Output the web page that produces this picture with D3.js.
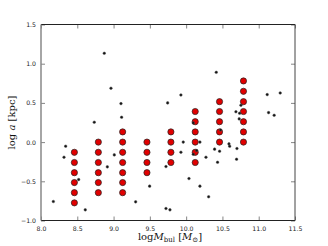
<!DOCTYPE html>
<html>
<head>
<meta charset="utf-8">
<script src="https://cdn.jsdelivr.net/npm/d3@7.9.0/dist/d3.min.js"></script>
<style>
  body { margin: 0; background: #fff; }
  svg { display: block; }
  .tick text { font-family: "DejaVu Sans", sans-serif; font-size: 6.2px; fill: #222; }
  .lbl { font-family: "DejaVu Serif", "Liberation Serif", serif; font-size: 10px; fill: #111; }
</style>
</head>
<body>
<svg></svg>
<script>
const width = 328;
const height = 246;
const margin = { top: 24.5, right: 33, bottom: 25.5, left: 41 };

// grid sample (red circles): log M_bul, log a
const gridMass = [
  8.46, 8.46, 8.46, 8.46, 8.46, 8.46,
  8.79, 8.79, 8.79, 8.79, 8.79, 8.79,
  9.125, 9.125, 9.125, 9.125, 9.125, 9.125, 9.125,
  9.46, 9.46, 9.46, 9.46,
  9.79, 9.79, 9.79, 9.79,
  10.125, 10.125, 10.125, 10.125, 10.125, 10.125,
  10.46, 10.46, 10.46, 10.46, 10.46,
  10.79, 10.79, 10.79, 10.79, 10.79, 10.79, 10.79
];
const gridLogA = [
  -0.13, -0.26, -0.39, -0.516, -0.645, -0.775,
  0, -0.13, -0.26, -0.39, -0.516, -0.645,
  0.13, 0, -0.13, -0.26, -0.39, -0.516, -0.645,
  0, -0.13, -0.26, -0.39,
  0.13, 0, -0.13, -0.26,
  0.39, 0.26, 0.13, 0, -0.13, -0.26,
  0.516, 0.39, 0.26, 0.13, 0,
  0.78, 0.648, 0.516, 0.39, 0.26, 0.13, 0
];

// observed galaxies (black dots)
const obsMass = [
  8.872, 8.964, 8.734, 8.34, 8.317, 8.519, 8.17, 8.61, 9.01, 8.914,
  9.102, 9.111, 9.745, 9.928, 10.415, 10.098, 9.96, 9.928, 9.722, 10.098,
  10.145, 10.19, 10.273, 10.392, 10.433, 10.039, 9.497, 10.19, 9.304, 9.722,
  9.777, 10.31, 11.117, 11.296, 10.755, 10.686, 10.737, 10.731, 11.136, 11.213,
  10.475, 10.59, 10.6, 10.461, 10.7, 10.695
];
const obsLogA = [
  1.133, 0.687, 0.254, -0.052, -0.193, -0.478, -0.758, -0.864, -0.163, -0.316,
  0.491, 0.317, 0.5, 0.601, 0.89, 0.245, 0.0, -0.129, -0.312, -0.155,
  -0.108, 0.0, -0.193, -0.09, -0.257, -0.465, -0.562, -0.562, -0.762, -0.847,
  -0.864, -0.698, 0.606, 0.627, 0.47, 0.387, 0.368, 0.296, 0.376, 0.342,
  0.155, -0.023, -0.053, -0.116, -0.082, -0.218
];

const xTicks = [8.0, 8.5, 9.0, 9.5, 10.0, 10.5, 11.0, 11.5];
const yTicks = [-1.0, -0.5, 0.0, 0.5, 1.0, 1.5];

const svg = d3.select("svg")
  .attr("width", width)
  .attr("height", height);

const x = d3.scaleLinear()
  .domain([8.0, 11.5])
  .range([margin.left, width - margin.right]);

const y = d3.scaleLinear()
  .domain([-1.0, 1.5])
  .range([height - margin.bottom, margin.top]);

const fmt = d => d3.format(".1f")(d).replace("-", "\u2212");

// axes with inward ticks
svg.append("g")
  .attr("transform", `translate(0,${height - margin.bottom})`)
  .call(d3.axisBottom(x).tickValues(xTicks).tickFormat(fmt).tickSizeInner(-4).tickSizeOuter(0).tickPadding(6))
  .call(g => g.select(".domain").remove());

svg.append("g")
  .attr("transform", `translate(0,${margin.top})`)
  .call(d3.axisTop(x).tickValues(xTicks).tickFormat("").tickSizeInner(-4).tickSizeOuter(0))
  .call(g => g.select(".domain").remove());

svg.append("g")
  .attr("transform", `translate(${margin.left},0)`)
  .call(d3.axisLeft(y).tickValues(yTicks).tickFormat(fmt).tickSizeInner(-4).tickSizeOuter(0).tickPadding(5))
  .call(g => g.select(".domain").remove());

svg.append("g")
  .attr("transform", `translate(${width - margin.right},0)`)
  .call(d3.axisRight(y).tickValues(yTicks).tickFormat("").tickSizeInner(-4).tickSizeOuter(0))
  .call(g => g.select(".domain").remove());

svg.selectAll(".tick line").attr("stroke", "#666").attr("stroke-width", 0.8);

// red grid points
svg.append("g")
  .selectAll("circle")
  .data(gridMass.map((m, i) => ({ m, a: gridLogA[i] })))
  .join("circle")
  .attr("cx", d => x(d.m))
  .attr("cy", d => y(d.a))
  .attr("r", 3.1)
  .attr("fill", "#e00000")
  .attr("stroke", "#222")
  .attr("stroke-width", 0.7);

// black observed points
svg.append("g")
  .selectAll("circle")
  .data(obsMass.map((m, i) => ({ m, a: obsLogA[i] })))
  .join("circle")
  .attr("cx", d => x(d.m))
  .attr("cy", d => y(d.a))
  .attr("r", 1.3)
  .attr("fill", "#111")
  .attr("stroke", "#555")
  .attr("stroke-width", 0.5);

// frame
const x0 = margin.left, x1 = width - margin.right;
const y0 = margin.top, y1 = height - margin.bottom;
svg.append("line").attr("x1", x0).attr("x2", x1).attr("y1", y0).attr("y2", y0).attr("stroke", "#222").attr("stroke-width", 1);
svg.append("line").attr("x1", x0).attr("x2", x1).attr("y1", y1).attr("y2", y1).attr("stroke", "#222").attr("stroke-width", 1);
svg.append("line").attr("x1", x0).attr("x2", x0).attr("y1", y0).attr("y2", y1).attr("stroke", "#888").attr("stroke-width", 1.5);
svg.append("line").attr("x1", x1).attr("x2", x1).attr("y1", y0).attr("y2", y1).attr("stroke", "#444").attr("stroke-width", 1);

// axis labels
const xl = svg.append("text")
  .attr("class", "lbl")
  .attr("x", (x0 + x1) / 2 + 2)
  .attr("y", 240)
  .attr("text-anchor", "middle");
xl.append("tspan").text("log");
xl.append("tspan").attr("font-style", "italic").text("M");
xl.append("tspan").attr("font-size", "7px").attr("dy", 2).text("bul");
xl.append("tspan").attr("dy", -2).text(" [");
xl.append("tspan").attr("font-style", "italic").text("M");
xl.append("tspan").attr("font-size", "7px").attr("dy", 2).text("\u2299");
xl.append("tspan").attr("dy", -2).text("]");

const yl = svg.append("text")
  .attr("class", "lbl")
  .attr("transform", `translate(14.5,${(y0 + y1) / 2}) rotate(-90)`)
  .attr("text-anchor", "middle");
yl.append("tspan").text("log ");
yl.append("tspan").attr("font-style", "italic").text("a");
yl.append("tspan").text(" [kpc]");
</script>
</body>
</html>
